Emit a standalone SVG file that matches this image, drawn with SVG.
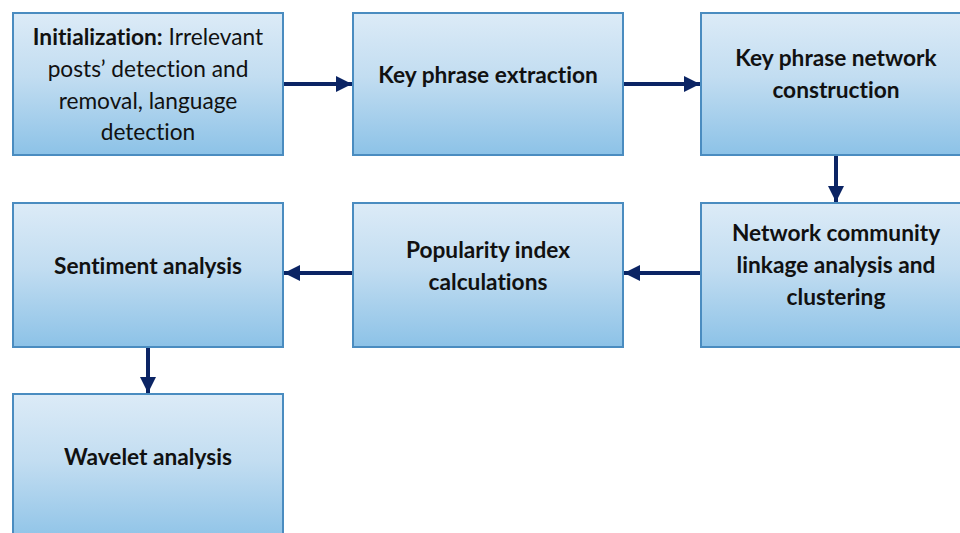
<svg xmlns="http://www.w3.org/2000/svg" width="960" height="533" viewBox="0 0 960 533">
<defs>
<linearGradient id="g" x1="0" y1="0" x2="0" y2="1">
<stop offset="0" stop-color="#dcebf7"/>
<stop offset="0.45" stop-color="#c2ddf1"/>
<stop offset="1" stop-color="#8cc2e7"/>
</linearGradient>
<marker id="ah" viewBox="0 0 10 10" refX="10" refY="5" markerWidth="4" markerHeight="4" orient="auto" markerUnits="strokeWidth">
<path d="M0,0 L10,5 L0,10 z" fill="#0b2464"/>
</marker>
<style>
.box{fill:url(#g);stroke:#4a8cc0;stroke-width:2}
.t{font-family:Lato,"Open Sans","Liberation Sans",sans-serif;font-size:22.7px;fill:#111;text-anchor:middle;font-weight:bold;font-variant-ligatures:none}
.n{font-weight:normal}
.c{stroke:#0b2464;stroke-width:4;fill:none;marker-end:url(#ah)}
</style>
</defs>
<rect width="960" height="533" fill="#fff"/>
<g id="connectors">
<line class="c" x1="283" y1="84" x2="352" y2="84"/>
<line class="c" x1="623" y1="84" x2="700" y2="84"/>
<line class="c" x1="836" y1="156" x2="836" y2="202"/>
<line class="c" x1="701" y1="273" x2="624" y2="273"/>
<line class="c" x1="353" y1="273" x2="284" y2="273"/>
<line class="c" x1="148" y1="347" x2="148" y2="393"/>
</g>
<g id="n1">
<rect class="box" x="13" y="13" width="270" height="142"/>
<text class="t" x="148" y="45"><tspan>Initialization:</tspan><tspan class="n"> Irrelevant</tspan></text>
<text class="t n" x="148" y="77">posts’ detection and</text>
<text class="t n" x="148" y="109">removal, language</text>
<text class="t n" x="148" y="140">detection</text>
</g>
<g id="n2">
<rect class="box" x="353" y="13" width="270" height="142"/>
<text class="t" x="488" y="83">Key phrase extraction</text>
</g>
<g id="n3">
<rect class="box" x="701" y="13" width="270" height="142"/>
<text class="t" x="836" y="66">Key phrase network</text>
<text class="t" x="836" y="98">construction</text>
</g>
<g id="n4">
<rect class="box" x="701" y="203" width="270" height="144"/>
<text class="t" x="836" y="241">Network community</text>
<text class="t" x="836" y="273">linkage analysis and</text>
<text class="t" x="836" y="305">clustering</text>
</g>
<g id="n5">
<rect class="box" x="353" y="203" width="270" height="144"/>
<text class="t" x="488" y="258">Popularity index</text>
<text class="t" x="488" y="290">calculations</text>
</g>
<g id="n6">
<rect class="box" x="13" y="203" width="270" height="144"/>
<text class="t" x="148" y="274">Sentiment analysis</text>
</g>
<g id="n7">
<rect class="box" x="13" y="394" width="270" height="150"/>
<text class="t" x="148" y="465">Wavelet analysis</text>
</g>
</svg>
